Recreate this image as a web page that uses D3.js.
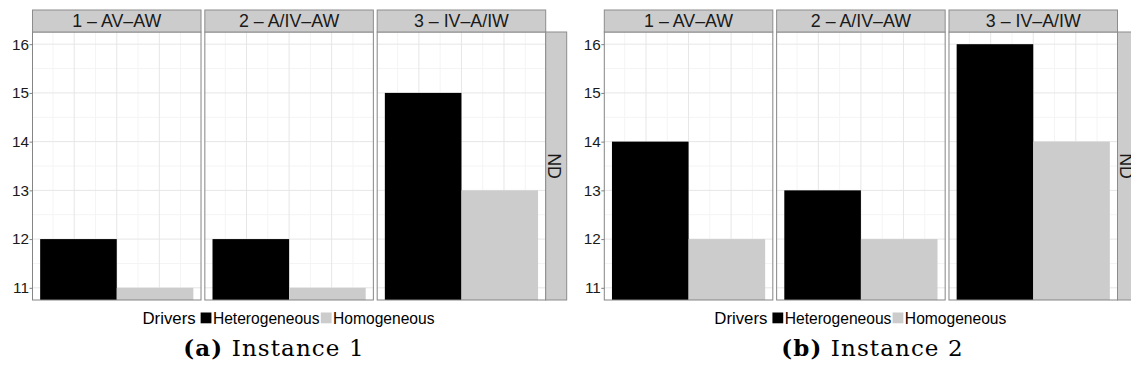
<!DOCTYPE html>
<html>
<head>
<meta charset="utf-8">
<script src="https://cdn.jsdelivr.net/npm/d3@7"></script>
<style>
  body { margin: 0; background: white; }
</style>
</head>
<body>
<div id="graf"></div>
<script>
// Datos
const facetas = ["1 – AV–AW", "2 – A/IV–AW", "3 – IV–A/IW"]
const drivers = ["Heterogeneous", "Homogeneous"]
const inst1Het = [12, 12, 15]
const inst1Hom = [11, 11, 13]
const inst2Het = [14, 13, 16]
const inst2Hom = [12, 12, 14]
const yTicks = [11, 12, 13, 14, 15, 16]
const filaEtiqueta = "ND"
const captions = [["(a)", " Instance 1"], ["(b)", " Instance 2"]]

const instancias = [
  { het: inst1Het, hom: inst1Hom, left: 32.5, capX: 274, cap: captions[0] },
  { het: inst2Het, hom: inst2Hom, left: 604.3, capX: 872.5, cap: captions[1] },
]

const SANS = "'Liberation Sans', Arimo, Arial, Helvetica, sans-serif"

// Dimensiones
const anchoTotal = 1131
const altoTotal = 379
const yTop = 32
const yBottom = 300
const stripH = 22
const panelsW = 513.2
const stripRW = 21

const svg = d3
  .select("#graf")
  .append("svg")
  .attr("width", anchoTotal)
  .attr("height", altoTotal)

// Escaladores
const color = d3.scaleOrdinal().domain(drivers).range(["#000000", "#cccccc"])
const y = d3.scaleLinear().domain([10.75, 16.25]).range([yBottom, yTop])
const fx = d3.scaleBand().domain(facetas).range([0, panelsW]).paddingInner(0.0222)
// eje x continuo dentro de cada panel (barras esquivadas alrededor de 1)
const x = d3.scaleLinear().domain([0.505, 1.495]).range([0, fx.bandwidth()])
const xMajor = [0.75, 1, 1.25]
const xMinor = [0.625, 0.875, 1.125, 1.375]
const yMinor = [11.5, 12.5, 13.5, 14.5, 15.5]

instancias.forEach((inst) => {
  const g = svg.append("g").attr("transform", `translate(${inst.left}, 0)`)

  facetas.forEach((f, i) => {
    const p = g.append("g").attr("transform", `translate(${fx(f)}, 0)`)
    const w = fx.bandwidth()

    p.append("rect")
      .attr("x", 0).attr("y", yTop)
      .attr("width", w).attr("height", yBottom - yTop)
      .attr("fill", "white")

    // Rejilla
    p.selectAll(".minY").data(yMinor).join("line")
      .attr("x1", 0).attr("x2", w)
      .attr("y1", (d) => y(d)).attr("y2", (d) => y(d))
      .attr("stroke", "#f4f4f4").attr("stroke-width", 1)
    p.selectAll(".minX").data(xMinor).join("line")
      .attr("y1", yTop).attr("y2", yBottom)
      .attr("x1", (d) => x(d)).attr("x2", (d) => x(d))
      .attr("stroke", "#f4f4f4").attr("stroke-width", 1)
    p.selectAll(".majY").data(yTicks).join("line")
      .attr("x1", 0).attr("x2", w)
      .attr("y1", (d) => y(d)).attr("y2", (d) => y(d))
      .attr("stroke", "#e6e6e6").attr("stroke-width", 1)
    p.selectAll(".majX").data(xMajor).join("line")
      .attr("y1", yTop).attr("y2", yBottom)
      .attr("x1", (d) => x(d)).attr("x2", (d) => x(d))
      .attr("stroke", "#e6e6e6").attr("stroke-width", 1)

    // Barras
    const barras = [
      { k: drivers[0], v: inst.het[i], x0: 0.55, x1: 1.0 },
      { k: drivers[1], v: inst.hom[i], x0: 1.0, x1: 1.45 },
    ]
    p.selectAll(".bar").data(barras).join("rect")
      .attr("x", (d) => x(d.x0))
      .attr("width", (d) => x(d.x1) - x(d.x0))
      .attr("y", (d) => y(d.v))
      .attr("height", (d) => y(y.domain()[0]) - y(d.v))
      .attr("fill", (d) => color(d.k))

    // Borde
    p.append("rect")
      .attr("x", 0).attr("y", yTop)
      .attr("width", w).attr("height", yBottom - yTop)
      .attr("fill", "none").attr("stroke", "#858585").attr("stroke-width", 1)

    // Strip
    p.append("rect")
      .attr("x", 0).attr("y", yTop - stripH)
      .attr("width", w).attr("height", stripH)
      .attr("fill", "#cccccc").attr("stroke", "#8c8c8c").attr("stroke-width", 1)
    p.append("text")
      .attr("x", w / 2).attr("y", yTop - stripH / 2)
      .attr("dy", "0.36em")
      .attr("text-anchor", "middle")
      .style("font-family", SANS)
      .style("font-size", "17.8px")
      .attr("fill", "#1a1a1a")
      .text(f)
  })

  // Strip derecha
  const xr = panelsW
  g.append("rect")
    .attr("x", xr).attr("y", yTop)
    .attr("width", stripRW).attr("height", yBottom - yTop)
    .attr("fill", "#cccccc").attr("stroke", "#8c8c8c").attr("stroke-width", 1)
  g.append("text")
    .attr("transform", `translate(${xr + stripRW / 2 - 2}, ${(yTop + yBottom) / 2}) rotate(90)`)
    .attr("dy", "0.36em")
    .attr("text-anchor", "middle")
    .style("font-family", SANS)
    .style("font-size", "17.8px")
    .attr("fill", "#1a1a1a")
    .text(filaEtiqueta)

  // Eje y
  const yAxis = d3.axisLeft(y).tickValues(yTicks).tickFormat(d3.format("d")).tickSize(3).tickPadding(0.5)
  const ya = g.append("g").call(yAxis)
  ya.select(".domain").remove()
  ya.selectAll("line").attr("stroke", "#7f7f7f")
  ya.selectAll("text")
    .style("font-family", SANS)
    .style("font-size", "15.3px")
    .attr("fill", "#1a1a1a")

  // Leyenda
  const leg = g.append("g")
  const lt = leg.append("text")
    .attr("x", 0).attr("y", 323.5)
    .style("font-family", SANS)
    .style("font-size", "16.8px")
    .attr("fill", "#000")
    .text("Drivers")
  let cx = lt.node().getComputedTextLength() + 5
  drivers.forEach((d) => {
    leg.append("rect")
      .attr("x", cx).attr("y", 312.5)
      .attr("width", 10.8).attr("height", 10.8)
      .attr("fill", color(d))
    const t = leg.append("text")
      .attr("x", cx + 12.3).attr("y", 323.5)
      .style("font-family", SANS)
      .style("font-size", "15.6px")
      .attr("fill", "#000")
      .text(d)
    cx += 12.3 + t.node().getComputedTextLength() + 1.2
  })
  const legW = cx
  leg.attr("transform", `translate(${panelsW / 2 - legW / 2}, 0)`)

  // Caption
  const cap = svg.append("text")
    .attr("x", inst.capX).attr("y", 355.5)
    .attr("text-anchor", "middle")
    .style("font-family", "'DejaVu Serif', serif")
    .style("font-size", "23px")
    .style("letter-spacing", "1.1px")
    .attr("fill", "#000")
  cap.append("tspan").attr("font-weight", "bold").text(inst.cap[0])
  cap.append("tspan").text(inst.cap[1])
})
</script>
</body>
</html>
